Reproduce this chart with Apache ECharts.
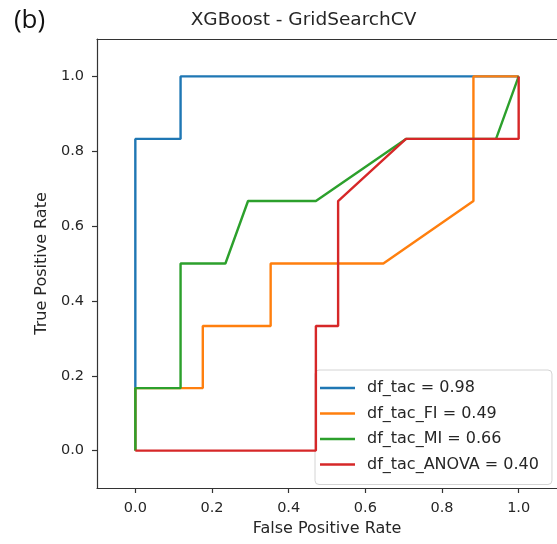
<!DOCTYPE html>
<html>
<head>
<meta charset="utf-8">
<script src="https://cdn.jsdelivr.net/npm/echarts@6/dist/echarts.min.js"></script>
<style>
  html, body { margin: 0; padding: 0; background: #fff; }
  #chart { width: 557px; height: 544px; }
</style>
</head>
<body>
<div id="chart"></div>
<script>
// ROC curves (false positive rate / true positive rate) per feature set
const fprTac = [0, 0, 0.118, 0.118, 1];
const tprTac = [0, 0.833, 0.833, 1, 1];

const fprFI = [0, 0, 0.176, 0.176, 0.353, 0.353, 0.647, 0.882, 0.882, 1];
const tprFI = [0, 0.167, 0.167, 0.333, 0.333, 0.5, 0.5, 0.667, 1, 1];

const fprMI = [0, 0, 0.118, 0.118, 0.235, 0.294, 0.471, 0.706, 0.941, 1];
const tprMI = [0, 0.167, 0.167, 0.5, 0.5, 0.667, 0.667, 0.833, 0.833, 1];

const fprANOVA = [0, 0.471, 0.471, 0.529, 0.529, 0.706, 1, 1];
const tprANOVA = [0, 0, 0.333, 0.333, 0.667, 0.833, 0.833, 1];

const seriesNames = ['df_tac = 0.98', 'df_tac_FI = 0.49', 'df_tac_MI = 0.66', 'df_tac_ANOVA = 0.40'];
const seriesColors = ['#1f77b4', '#ff7f0e', '#2ca02c', '#d62728'];
const tickValues = [0, 0.2, 0.4, 0.6, 0.8, 1.0];

const curves = [[fprTac, tprTac], [fprFI, tprFI], [fprMI, tprMI], [fprANOVA, tprANOVA]];

const FONT = 'DejaVu Sans';
const INK = '#262626';

const chart = echarts.init(document.getElementById('chart'), null, { renderer: 'canvas' });

const axisCommon = {
  type: 'value',
  min: -0.1,
  max: 1.1,
  splitLine: { show: false },
  axisLine: { show: true, onZero: false, lineStyle: { color: '#333', width: 1.2 } },
  axisTick: { show: true, length: 5, inside: false, customValues: tickValues, lineStyle: { color: '#333', width: 1.2 } },
  axisLabel: {
    customValues: tickValues,
    formatter: v => v.toFixed(1),
    color: INK, fontFamily: FONT, fontSize: 14.5, margin: 13
  }
};

chart.setOption({
  animation: false,
  backgroundColor: '#fff',
  graphic: [
    {
      type: 'text',
      style: { text: '(b)', x: 29.5, y: 20.5, font: '26px "Open Sans"', fill: '#111', align: 'center', verticalAlign: 'middle' }
    },
    {
      type: 'text',
      style: { text: 'XGBoost - GridSearchCV', x: 303.5, y: 20.5, font: '18.5px "DejaVu Sans"', fill: INK, align: 'center', verticalAlign: 'middle' }
    }
  ],
  grid: { left: 97, top: 39, right: -3, bottom: 56, containLabel: false },
  xAxis: [
    Object.assign({}, axisCommon, {
      position: 'bottom',
      name: 'False Positive Rate',
      nameLocation: 'middle',
      nameGap: 33,
      nameTextStyle: { color: INK, fontFamily: FONT, fontSize: 16 }
    }),
    {
      type: 'value', position: 'top', min: -0.1, max: 1.1,
      splitLine: { show: false },
      axisLine: { show: true, onZero: false, lineStyle: { color: '#333', width: 1.2 } },
      axisTick: { show: false }, axisLabel: { show: false }
    }
  ],
  yAxis: Object.assign({}, axisCommon, {
    position: 'left',
    name: 'True Positive Rate',
    nameLocation: 'middle',
    nameGap: 47,
    nameTextStyle: { color: INK, fontFamily: FONT, fontSize: 16 }
  }),
  legend: {
    orient: 'vertical',
    left: 315,
    top: 370,
    padding: [8, 13, 10, 5],
    itemGap: 5.5,
    itemWidth: 35,
    itemHeight: 2.5,
    icon: 'rect',
    backgroundColor: 'rgba(255,255,255,0.8)',
    borderColor: '#d4d4d4',
    borderWidth: 1,
    borderRadius: 4,
    data: seriesNames,
    textStyle: { color: INK, fontFamily: FONT, fontSize: 16, lineHeight: 20, padding: [0, 0, 0, 7] }
  },
  series: curves.map((c, i) => ({
    type: 'line',
    name: seriesNames[i],
    xAxisIndex: 0,
    yAxisIndex: 0,
    data: c[0].map((x, k) => [x, c[1][k]]),
    symbol: 'none',
    showSymbol: false,
    lineStyle: { color: seriesColors[i], width: 2.4 },
    itemStyle: { color: seriesColors[i] },
    clip: false,
    z: 2 + i
  }))
});
</script>
</body>
</html>
